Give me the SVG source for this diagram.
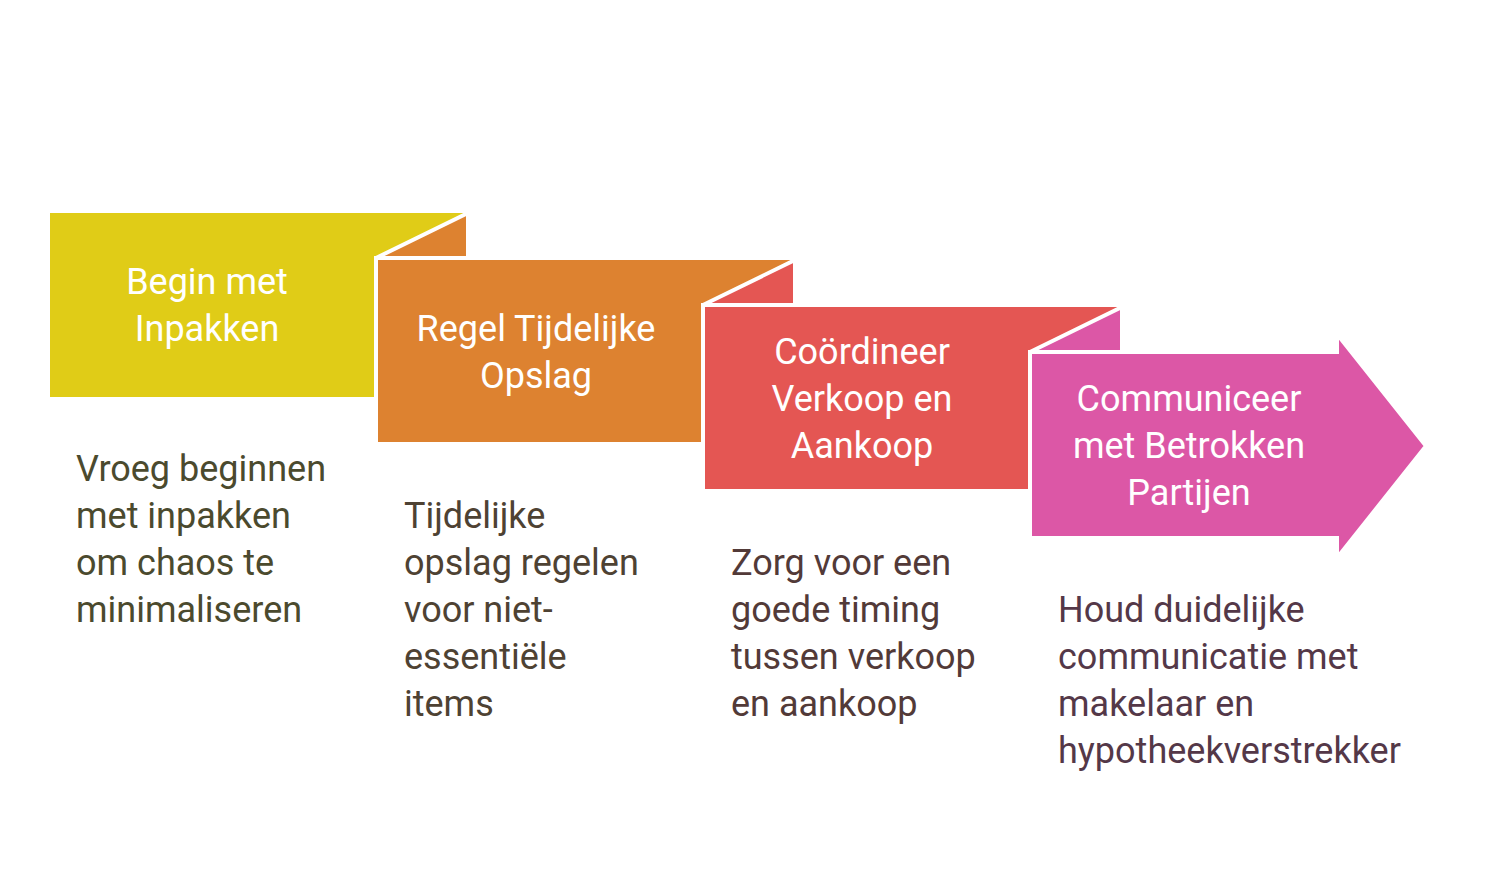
<svg xmlns="http://www.w3.org/2000/svg" width="1500" height="869" viewBox="0 0 1500 869">
<style>
text{font-family:Roboto,"Liberation Sans",sans-serif;font-size:36px}
.h{fill:#fff;text-anchor:middle}
.s{stroke:#fff;stroke-width:4}
</style>
<rect width="1500" height="869" fill="#fff"/>
<g id="step1">
<rect x="50" y="213" width="418" height="184" fill="#E0CC17"/>
<text class="h" x="207" y="294">Begin met</text>
<text class="h" x="207" y="341">Inpakken</text>
<g fill="#4B4A2E"><text x="76" y="481">Vroeg beginnen</text><text x="76" y="528">met inpakken</text><text x="76" y="575">om chaos te</text><text x="76" y="622">minimaliseren</text></g>
</g>
<g id="step2">
<polygon class="s" points="376,258 468,213 468,258" fill="#DD8230"/>
<rect class="s" x="376" y="258" width="420" height="186" fill="#DD8230"/>
<text class="h" x="536" y="341">Regel Tijdelijke</text>
<text class="h" x="536" y="388">Opslag</text>
<g fill="#4E4233"><text x="404" y="528">Tijdelijke</text><text x="404" y="575">opslag regelen</text><text x="404" y="622">voor niet-</text><text x="404" y="669">essentiële</text><text x="404" y="716">items</text></g>
</g>
<g id="step3">
<polygon class="s" points="703,305 795,260 795,305" fill="#E45653"/>
<rect class="s" x="703" y="305" width="420" height="186" fill="#E45653"/>
<text class="h" x="862" y="364">Coördineer</text>
<text class="h" x="862" y="411">Verkoop en</text>
<text class="h" x="862" y="458">Aankoop</text>
<g fill="#523A38"><text x="731" y="575">Zorg voor een</text><text x="731" y="622">goede timing</text><text x="731" y="669">tussen verkoop</text><text x="731" y="716">en aankoop</text></g>
</g>
<g id="step4">
<polygon class="s" points="1030,352 1122,307 1122,352" fill="#DC57A6"/>
<polygon class="s" points="1030,352 1337,352 1337,334 1426,446 1337,558 1337,538 1030,538" fill="#DC57A6"/>
<text class="h" x="1189" y="411">Communiceer</text>
<text class="h" x="1189" y="458">met Betrokken</text>
<text class="h" x="1189" y="505">Partijen</text>
<g fill="#543848"><text x="1058" y="622">Houd duidelijke</text><text x="1058" y="669">communicatie met</text><text x="1058" y="716">makelaar en</text><text x="1058" y="763">hypotheekverstrekker</text></g>
</g>
<g id="connectors"/>
</svg>
